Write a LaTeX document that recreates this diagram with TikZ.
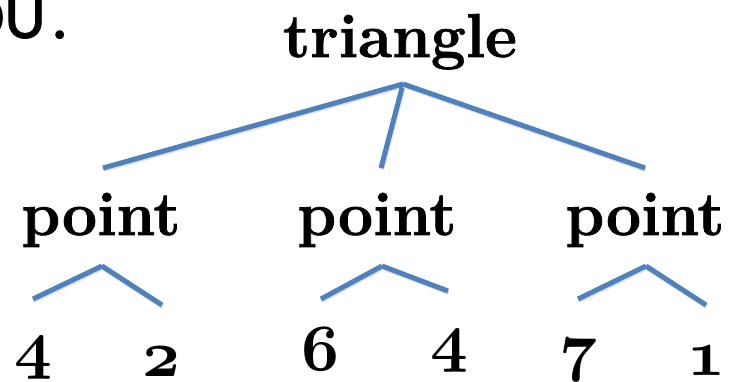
\documentclass[tikz,border=0pt]{standalone}
\usepackage{fontspec}
\setmainfont{Latin Modern Roman}[BoldFeatures={FakeBold=1.2}]
\newfontfamily\calib{Carlito}[FakeBold=1.5]
\definecolor{treeblue}{RGB}{79,129,189}
\DeclareFontFamily{OML}{oscmm}{\skewchar\font'177}
\DeclareFontShape{OML}{oscmm}{b}{it}{<->cmmib10}{}
\newcommand{\osdig}[1]{{\fontsize{66}{70}\usefont{OML}{oscmm}{b}{it}#1}}
\begin{document}
\begin{tikzpicture}[x=1pt,y=1pt,
  word/.style={inner sep=0pt, anchor=base, font=\fontsize{62}{70}\selectfont\bfseries},
  digit/.style={inner sep=0pt, anchor=base},
  branch/.style={draw=treeblue, line width=5pt, line cap=butt,
    preaction={draw=black!12, line width=5pt, transform canvas={shift={(0.8pt,-1.6pt)}}}}]
\useasboundingbox (0,0) rectangle (733,-381);
\clip (0,0) rectangle (733,-381);
% fragment of cut-off text
\node[inner sep=0pt, anchor=base east, font=\calib\fontsize{64}{70}\selectfont] (frag) at (68,-38) {OU\kern6pt.};
% words
\node[word] (tri) at (400,-57) {triangle};
\node[word] (p1) at (101,-235) {point};
\node[word] (p2) at (377,-235) {point};
\node[word] (p3) at (645,-235) {point};
% digits
\node[digit] (d1) at (33,-366) {\osdig{4}};
\node[digit] (d2) at (161,-376) {\osdig{2}};
\node[digit] (d3) at (320,-370) {\osdig{6}};
\node[digit] (d4) at (449,-359) {\osdig{4}};
\node[digit] (d5) at (578,-368) {\osdig{7}};
\node[digit] (d6) at (706,-375) {\osdig{1}};
% connector end points
\coordinate (ta) at (403,-84);
\coordinate (tl) at (103,-168);
\coordinate (tm) at (381,-168);
\coordinate (tr) at (645,-168);
\coordinate (a1) at (102,-266);
\coordinate (l1) at (33,-299);
\coordinate (r1) at (162,-305);
\coordinate (a2) at (382,-266);
\coordinate (l2) at (321,-299);
\coordinate (r2) at (448,-291);
\coordinate (a3) at (646,-266);
\coordinate (l3) at (578,-299);
\coordinate (r3) at (706,-305);
% connectors
\draw[branch] (ta) -- (tl);
\draw[branch] (ta) -- (tm);
\draw[branch] (ta) -- (tr);
\draw[branch] (a1) -- (l1);
\draw[branch] (a1) -- (r1);
\draw[branch] (a2) -- (l2);
\draw[branch] (a2) -- (r2);
\draw[branch] (a3) -- (l3);
\draw[branch] (a3) -- (r3);
\end{tikzpicture}
\end{document}
